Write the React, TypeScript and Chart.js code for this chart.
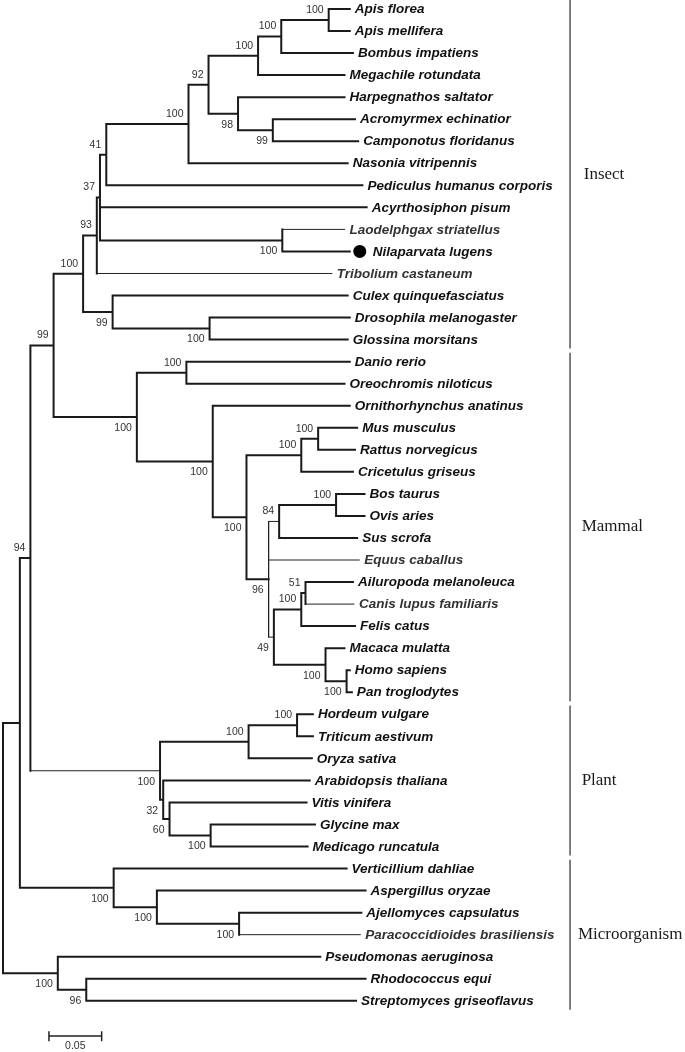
import React, { useEffect, useRef } from "react";
import { Chart, registerables } from "chart.js";

Chart.register(...registerables);

// ---------- DATA ----------
const leafNames = [
  "Apis florea", "Apis mellifera", "Bombus impatiens", "Megachile rotundata",
  "Harpegnathos saltator", "Acromyrmex echinatior", "Camponotus floridanus",
  "Nasonia vitripennis", "Pediculus humanus corporis", "Acyrthosiphon pisum",
  "Laodelphgax striatellus", "Nilaparvata lugens", "Tribolium castaneum",
  "Culex quinquefasciatus", "Drosophila melanogaster", "Glossina morsitans",
  "Danio rerio", "Oreochromis niloticus", "Ornithorhynchus anatinus",
  "Mus musculus", "Rattus norvegicus", "Cricetulus griseus", "Bos taurus",
  "Ovis aries", "Sus scrofa", "Equus caballus", "Ailuropoda melanoleuca",
  "Canis lupus familiaris", "Felis catus", "Macaca mulatta", "Homo sapiens",
  "Pan troglodytes", "Hordeum vulgare", "Triticum aestivum", "Oryza sativa",
  "Arabidopsis thaliana", "Vitis vinifera", "Glycine max", "Medicago runcatula",
  "Verticillium dahliae", "Aspergillus oryzae", "Ajellomyces capsulatus",
  "Paracoccidioides brasiliensis", "Pseudomonas aeruginosa", "Rhodococcus equi",
  "Streptomyces griseoflavus",
];

// distance of each tip from the root (substitutions/site)
const leafDepths = [
  0.329, 0.329, 0.332, 0.324, 0.324, 0.334, 0.337, 0.327, 0.341, 0.345,
  0.324, 0.329, 0.312, 0.327, 0.329, 0.327,
  0.329, 0.324, 0.329, 0.336, 0.334, 0.332, 0.343, 0.343, 0.336, 0.338,
  0.332, 0.333, 0.334, 0.324, 0.329, 0.331,
  0.294, 0.294, 0.293, 0.291, 0.288, 0.296, 0.289,
  0.326, 0.344, 0.340, 0.339, 0.301, 0.344, 0.335,
];

// internal nodes: id, children (leaf index or node id), depth from root, bootstrap
const cladeIds = [
  "root", "A", "N94", "animals", "insects", "N93", "N37", "N41", "hym", "N92",
  "apoid", "bombApis", "apis", "N98", "ants", "lao", "dipt", "flies",
  "verts", "fish", "mamm", "ther", "glires", "murid", "N96", "N84", "bov",
  "N49", "carn", "N51", "prim", "hom",
  "plants", "grass", "ht", "N32", "N60", "gm",
  "fungi", "asp", "ajpa", "bact", "N96b",
];
const cladeChildren: (number | string)[][] = [
  ["A", "bact"], ["N94", "fungi"], ["animals", "plants"], ["insects", "verts"],
  ["N93", "dipt"], ["N37", 12], ["N41", 9, "lao"], ["hym", 8], ["N92", 7],
  ["apoid", "N98"], ["bombApis", 3], ["apis", 2], [0, 1], [4, "ants"], [5, 6],
  [10, 11], [13, "flies"], [14, 15],
  ["fish", "mamm"], [16, 17], [18, "ther"], ["glires", "N96"], ["murid", 21],
  [19, 20], ["N84", 25, "N49"], ["bov", 24], [22, 23],
  ["carn", "prim"], ["N51", 28], [26, 27], [29, "hom"], [30, 31],
  ["grass", "N32"], ["ht", 34], [32, 33], [35, "N60"], [36, "gm"], [37, 38],
  [39, "asp"], [40, "ajpa"], [41, 42], [43, "N96b"], [44, 45],
];
const cladeDepths = [
  0, 0.016, 0.026, 0.048, 0.076, 0.089, 0.092, 0.098, 0.176, 0.195,
  0.242, 0.264, 0.309, 0.223, 0.256, 0.265, 0.104, 0.196,
  0.127, 0.174, 0.199, 0.231, 0.283, 0.299, 0.252, 0.262, 0.316,
  0.257, 0.283, 0.287, 0.306, 0.326,
  0.149, 0.233, 0.279, 0.152, 0.158, 0.197,
  0.105, 0.146, 0.224, 0.052, 0.079,
];
const cladeSupport: (number | null)[] = [
  null, null, 94, 99, 100, 93, 37, 41, 100, 92,
  100, 100, 100, 98, 99, 100, 99, 100,
  100, 100, 100, 100, 100, 100, 96, 84, 100,
  49, 100, 51, 100, 100,
  100, 100, 100, 32, 60, 100,
  100, 100, 100, 100, 96,
];

const groupNames = ["Insect", "Mammal", "Plant", "Microorganism"];
const groupFirstLeaf = [0, 16, 32, 39];
const groupLastLeaf = [15, 31, 38, 45];

const markedLeaf = "Nilaparvata lugens";
const scaleBarLength = 0.05;
const scaleBarLabel = "0.05";

// ---------- STYLE / LAYOUT ----------
const W = 685;
const H = 1052;
const PX_PER_UNIT = 1054;
const ROOT_PX = 3;
const ROW_PX = 22.04;
const FIRST_ROW_PX = 9;
const GROUP_BAR_DEPTH = 0.538;
const GROUP_TEXT_DEPTH = [0.551, 0.549, 0.549, 0.5455];
const SCALE_BAR_DEPTH = 0.0436;
const SCALE_BAR_ROW = 46.6;
const SCALE_TEXT_ROW = 47.05;
const LINE_COLOR = "#1a1a1a";
const dimLeaves = [
  "Laodelphgax striatellus", "Tribolium castaneum", "Equus caballus",
  "Canis lupus familiaris", "Paracoccidioides brasiliensis",
];
const thinStems = ["plants", "N84", "N49"];
const thinVerticals = ["N96"];

// ---------- TREE GEOMETRY (in data units) ----------
const cladeIndex = new Map(cladeIds.map((id, i) => [id, i]));
const parentOf = new Map<string, { parent: string; pos: number; n: number }>();
cladeIds.forEach((id, i) => {
  const ch = cladeChildren[i];
  ch.forEach((c, k) => parentOf.set(String(typeof c === "number" ? "L" + c : c), { parent: id, pos: k, n: ch.length }));
});

function rowOf(c: number | string): number {
  if (typeof c === "number") return c;
  const ch = cladeChildren[cladeIndex.get(c)!];
  return (rowOf(ch[0]) + rowOf(ch[ch.length - 1])) / 2;
}
function depthOf(c: number | string): number {
  if (typeof c === "number") return leafDepths[c];
  return cladeDepths[cladeIndex.get(c)!];
}

type P = { x: number; y: number | null };
const thick: P[] = [];
const thin: P[] = [];
const gap = (arr: P[]) => arr.push({ x: 0, y: null });

cladeIds.forEach((id, i) => {
  const ch = cladeChildren[i];
  const d = cladeDepths[i];
  const vt = thinVerticals.includes(id) ? thin : thick;
  vt.push({ x: d, y: rowOf(ch[0]) }, { x: d, y: rowOf(ch[ch.length - 1]) });
  gap(vt);
  ch.forEach((c) => {
    const isThin =
      typeof c === "number" ? dimLeaves.includes(leafNames[c]) : thinStems.includes(c);
    const arr = isThin ? thin : thick;
    arr.push({ x: d, y: rowOf(c) }, { x: depthOf(c), y: rowOf(c) });
    gap(arr);
  });
});

const groupBars: P[] = [];
groupNames.forEach((_, g) => {
  groupBars.push(
    { x: GROUP_BAR_DEPTH, y: groupFirstLeaf[g] - 0.37 },
    { x: GROUP_BAR_DEPTH, y: groupLastLeaf[g] + 0.37 }
  );
  gap(groupBars);
});

const scaleBar: P[] = [
  { x: SCALE_BAR_DEPTH, y: SCALE_BAR_ROW },
  { x: SCALE_BAR_DEPTH + scaleBarLength, y: SCALE_BAR_ROW },
];
gap(scaleBar);
scaleBar.push({ x: SCALE_BAR_DEPTH, y: SCALE_BAR_ROW - 0.18 }, { x: SCALE_BAR_DEPTH, y: SCALE_BAR_ROW + 0.2 });
gap(scaleBar);
scaleBar.push(
  { x: SCALE_BAR_DEPTH + scaleBarLength, y: SCALE_BAR_ROW - 0.18 },
  { x: SCALE_BAR_DEPTH + scaleBarLength, y: SCALE_BAR_ROW + 0.2 }
);

const labelPlugin = {
  id: "treeLabels",
  afterDatasetsDraw(chart: any) {
    const { ctx } = chart;
    const xs = chart.scales.x;
    const ys = chart.scales.y;
    ctx.save();
    // leaf names
    leafNames.forEach((name, i) => {
      const px = xs.getPixelForValue(leafDepths[i]);
      const py = ys.getPixelForValue(i);
      let tx = px + 5;
      if (name === markedLeaf) {
        ctx.beginPath();
        ctx.fillStyle = "#000";
        ctx.arc(px + 10, py, 6.5, 0, Math.PI * 2);
        ctx.fill();
        tx = px + 23;
      }
      ctx.font = 'italic bold 13.5px "Liberation Sans", Arial, sans-serif';
      ctx.fillStyle = dimLeaves.includes(name) ? "#333333" : "#111111";
      ctx.textAlign = "left";
      ctx.textBaseline = "middle";
      ctx.fillText(name, tx, py + 0.5);
    });
    // bootstrap values
    ctx.font = '10.5px "Liberation Sans", Arial, sans-serif';
    ctx.fillStyle = "#333";
    ctx.textAlign = "right";
    ctx.textBaseline = "middle";
    cladeIds.forEach((id, i) => {
      const s = cladeSupport[i];
      if (s == null) return;
      const info = parentOf.get(id);
      const below = info ? info.pos === info.n - 1 : false;
      const px = xs.getPixelForValue(cladeDepths[i]);
      const py = ys.getPixelForValue(rowOf(id));
      ctx.fillText(String(s), px - 5, py + (below ? 11 : -10));
    });
    // group names
    ctx.font = '17px "Liberation Serif", "Times New Roman", serif';
    ctx.fillStyle = "#1a1a1a";
    ctx.textAlign = "left";
    groupNames.forEach((g, k) => {
      const px = xs.getPixelForValue(GROUP_TEXT_DEPTH[k]);
      const py = ys.getPixelForValue((groupFirstLeaf[k] + groupLastLeaf[k]) / 2);
      ctx.fillText(g, px, py);
    });
    // scale label
    ctx.font = '10.5px "Liberation Sans", Arial, sans-serif';
    ctx.fillStyle = "#333";
    ctx.textAlign = "center";
    ctx.fillText(
      scaleBarLabel,
      xs.getPixelForValue(SCALE_BAR_DEPTH + scaleBarLength / 2),
      ys.getPixelForValue(SCALE_TEXT_ROW)
    );
    ctx.restore();
  },
};

export default function App() {
  const ref = useRef<HTMLCanvasElement | null>(null);
  useEffect(() => {
    if (!ref.current) return;
    const lineDs = (data: P[], width: number, color: string) => ({
      type: "scatter" as const,
      data,
      showLine: true,
      spanGaps: false,
      borderColor: color,
      borderWidth: width,
      borderCapStyle: "square" as const,
      pointRadius: 0,
      pointHoverRadius: 0,
      fill: false,
      tension: 0,
    });
    const chart = new Chart(ref.current, {
      type: "scatter",
      data: {
        datasets: [
          lineDs(thick, 2, LINE_COLOR),
          lineDs(thin, 1, "#222"),
          lineDs(groupBars, 1.5, "#555"),
          lineDs(scaleBar, 1.5, "#222"),
        ] as any,
      },
      options: {
        animation: false,
        responsive: false,
        devicePixelRatio: 1,
        events: [],
        layout: { padding: 0 },
        plugins: { legend: { display: false }, tooltip: { enabled: false } },
        scales: {
          x: {
            type: "linear",
            display: false,
            min: -ROOT_PX / PX_PER_UNIT,
            max: (W - ROOT_PX) / PX_PER_UNIT,
          },
          y: {
            type: "linear",
            display: false,
            reverse: true,
            min: -FIRST_ROW_PX / ROW_PX,
            max: (H - FIRST_ROW_PX) / ROW_PX,
          },
        },
      },
      plugins: [labelPlugin],
    });
    return () => chart.destroy();
  }, []);
  return (
    <div style={{ position: "absolute", left: 0, top: 0, width: W, height: H, background: "#fff" }}>
      <canvas ref={ref} width={W} height={H} style={{ display: "block" }} />
    </div>
  );
}
